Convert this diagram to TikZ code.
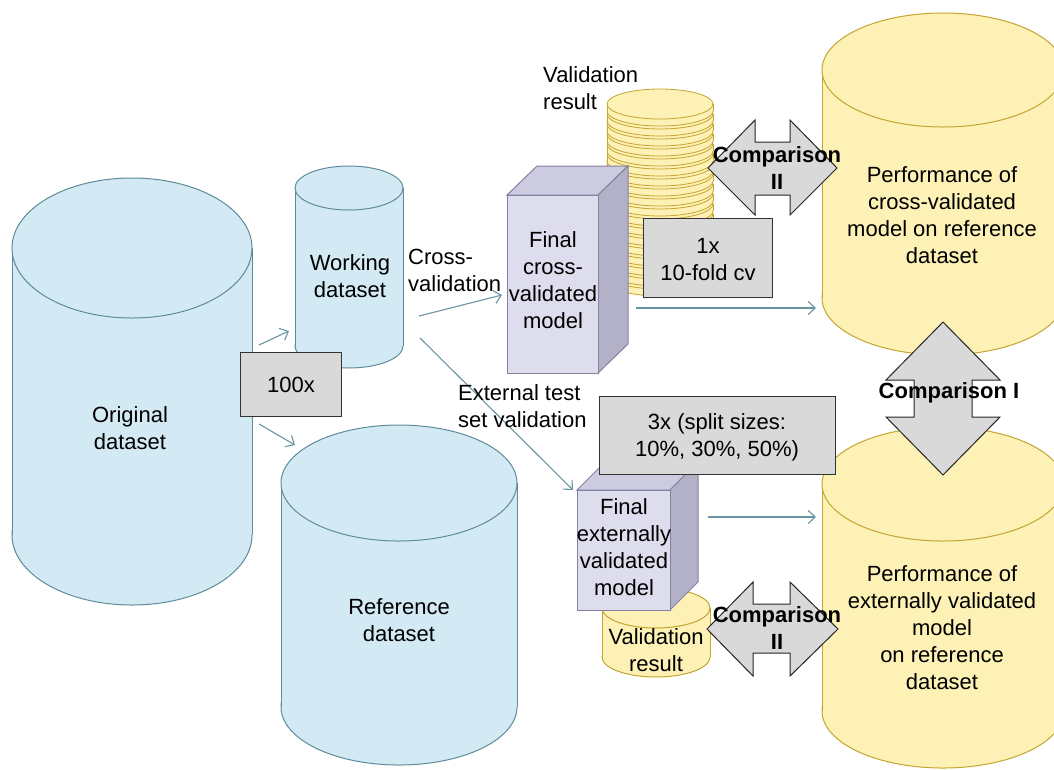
\documentclass[tikz,border=0pt]{standalone}
\usepackage{fontspec}
\setmainfont{Liberation Sans}
\usepackage{tikz}
\usetikzlibrary{calc}
\usetikzlibrary{arrows.meta}

\definecolor{cylblue}{HTML}{D3E9F3}
\definecolor{cylblueline}{HTML}{5E8C9A}
\definecolor{cylyellow}{HTML}{FDF1B6}
\definecolor{cylyellowline}{HTML}{C4A530}
\definecolor{boxfront}{HTML}{DEDDEE}
\definecolor{boxside}{HTML}{B2B1C8}
\definecolor{boxtop}{HTML}{CCCBE0}
\definecolor{boxline}{HTML}{8482A0}
\definecolor{flowline}{HTML}{6A96A3}

\tikzset{
  bluecyl/.style={fill=cylblue,draw=cylblueline,line width=1pt},
  yellowcyl/.style={fill=cylyellow,draw=cylyellowline,line width=1pt},
  coincyl/.style={fill=cylyellow,draw=cylyellowline,line width=0.8pt},
  graybox/.style={fill=gray!30,draw=black!80,line width=1pt},
  cmparrow/.style={fill=gray!30,draw=black!85,line width=1pt},
  flow/.style={draw=flowline,line width=1.1pt,-{Straight Barb[length=7pt,width=13pt]}},
  lbl/.style={inner sep=0pt,align=center},
  lbll/.style={inner sep=0pt,align=left,anchor=west},
  cmplbl/.style={inner sep=0pt,align=center,font=\fontsize{22}{27}\selectfont\bfseries}
}

% cylinder: centre x, top y, bottom y, x radius, y radius, style
\newcommand{\datacyl}[6]{%
  \filldraw[#6] (#1,#3) ellipse [x radius=#4, y radius=#5];
  \fill[#6,draw=none] ({#1-#4},#2) rectangle ({#1+#4},#3);
  \draw[#6,fill=none] ({#1-#4},#2) -- ({#1-#4},#3) ({#1+#4},#2) -- ({#1+#4},#3);
  \filldraw[#6] (#1,#2) ellipse [x radius=#4, y radius=#5];
}

\begin{document}
\begin{tikzpicture}[x=1pt,y=-1pt,font=\fontsize{22}{27}\selectfont]
      \fill[white] (0,0) rectangle (1054,769);
      \useasboundingbox (0,0) rectangle (1054,769);
      \clip (0,0) rectangle (1054,769);

      % data sets
      \datacyl{132}{248}{535}{120}{70}{bluecyl}
      \datacyl{349}{188}{346}{54}{22}{bluecyl}
      \datacyl{399}{483}{707}{118}{58}{bluecyl}
      \node[lbl] (orig) at (130,428) {Original\\dataset};
      \node[lbl] (work) at (350,276) {Working\\dataset};
      \node[lbl] (ref) at (399,620) {Reference\\dataset};

      \draw[graybox] (240,352) rectangle (341,416);
      \node[lbl] (hundred) at (291,385) {100x};

      % performance on reference data
      \datacyl{943}{70}{298}{121}{57}{yellowcyl}
      \datacyl{943}{484}{711}{121}{57}{yellowcyl}
      \node[lbl] (perfcv) at (942,215) {Performance of\\cross-validated\\model on reference\\dataset};
      \node[lbl] (perfext) at (942,628) {Performance of\\externally validated\\model\\on reference\\dataset};

      % stack of cv results
      \foreach \i in {17,16,...,0} {
        \datacyl{660}{104+10*\i}{111+10*\i}{53}{15}{coincyl}
      }
      \node[lbll] (cvres) at (543,88) {Validation\\result};

      % cross-validated model
      \filldraw[fill=boxtop,draw=boxline,line width=1pt] (507,195) -- (537,166) -- (628,166) -- (598,195) -- cycle;
      \filldraw[fill=boxside,draw=boxline,line width=1pt] (598,195) -- (628,166) -- (628,344) -- (598,373) -- cycle;
      \filldraw[fill=boxfront,draw=boxline,line width=1pt] (507,195) rectangle (598,373);
      \node[lbl] (cvmodel) at (553,280) {Final\\cross-\\validated\\model};

      \draw[graybox] (643,218) rectangle (772,297);
      \node[lbl] (onex) at (708,260) {1x\\10-fold cv};

      % external validation result and model
      \datacyl{656}{608}{657}{54}{20}{yellowcyl}
      \node[lbl] (extres) at (656,650) {Validation\\result};
      \filldraw[fill=boxtop,draw=boxline,line width=1pt] (577,490) -- (605,462) -- (698,462) -- (670,490) -- cycle;
      \filldraw[fill=boxside,draw=boxline,line width=1pt] (670,490) -- (698,462) -- (698,582) -- (670,610) -- cycle;
      \filldraw[fill=boxfront,draw=boxline,line width=1pt] (577,490) rectangle (670,610);
      \node[lbl] (extmodel) at (624,547) {Final\\externally\\validated\\model};

      \draw[graybox] (599,396) rectangle (835,474);
      \node[lbl] (threex) at (717,437) {3x (split sizes:\\10\%, 30\%, 50\%)};

      % comparisons
      \filldraw[cmparrow] (708,168) -- (755,120) -- (755,142) -- (790,142) -- (790,120) -- (837,168)
        -- (790,215) -- (790,195) -- (755,195) -- (755,215) -- cycle;
      \node[cmplbl] (cmptop) at (777,168) {Comparison\\II};
      \filldraw[cmparrow] (707,629) -- (753,582) -- (753,604) -- (790,604) -- (790,582) -- (838,629)
        -- (790,676) -- (790,653) -- (753,653) -- (753,676) -- cycle;
      \node[cmplbl] (cmpbot) at (777,628) {Comparison\\II};
      \filldraw[cmparrow] (943,322) -- (1000,380) -- (972,380) -- (972,417) -- (1000,417) -- (943,475)
        -- (886,417) -- (914,417) -- (914,380) -- (886,380) -- cycle;
      \node[cmplbl] (cmpmid) at (949,393) {Comparison I};

      % flow
      \coordinate (splitup) at (259,345);
      \coordinate (splitdown) at (259,424);
      \coordinate (workin) at (289,331);
      \coordinate (refin) at (295,445);
      \coordinate (cvout) at (419,316);
      \coordinate (cvin) at (502,295);
      \coordinate (extout) at (420,338);
      \coordinate (extin) at (573,490);
      \coordinate (cvperf) at (636,308);
      \coordinate (cvperfin) at (816,308);
      \coordinate (extperf) at (708,517);
      \coordinate (extperfin) at (816,517);
      \draw[flow] (splitup) -- (workin);
      \draw[flow] (splitdown) -- (refin);
      \draw[flow] (cvout) -- (cvin);
      \draw[flow] (extout) -- (extin);
      \draw[flow] (cvperf) -- (cvperfin);
      \draw[flow] (extperf) -- (extperfin);

      \node[lbll] (cvlbl) at (408,270) {Cross-\\validation};
      \node[lbll] (extlbl) at (458,406) {External test\\set validation};
\end{tikzpicture}
\end{document}
